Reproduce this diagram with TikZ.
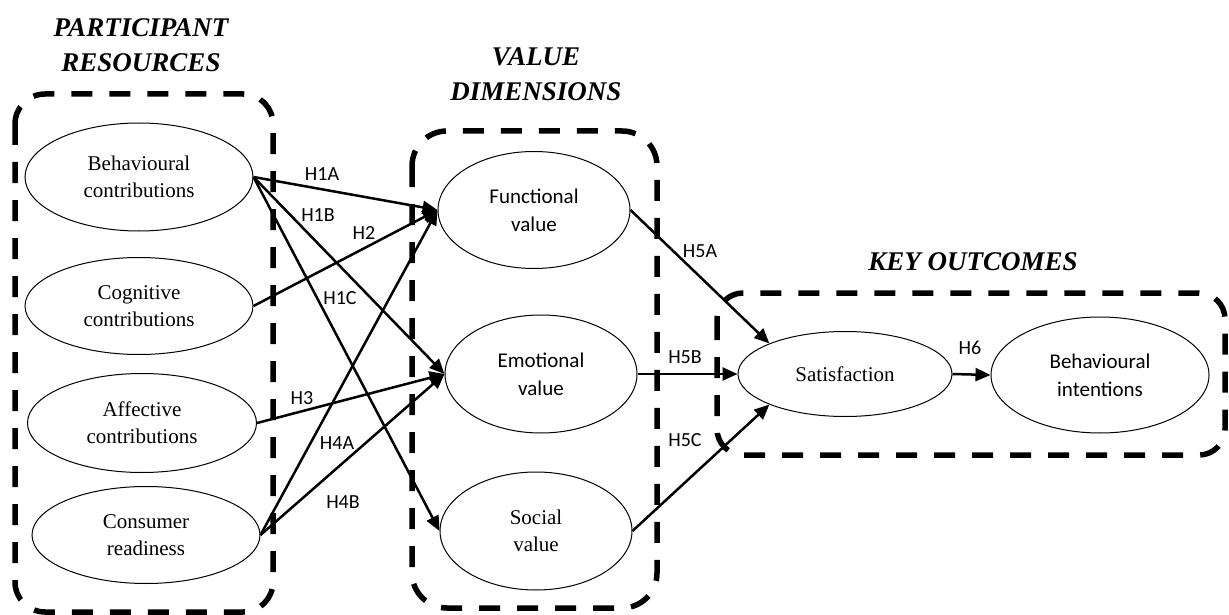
\documentclass[tikz,border=0pt]{standalone}
\usepackage{fontspec}
\setmainfont{Liberation Serif}
\newfontfamily\calib{Carlito}
\usetikzlibrary{arrows.meta,shapes.geometric}

\tikzset{
  construct/.style={ellipse, draw, line width=1pt, inner sep=0pt, align=center,
    font=\fontsize{21}{27}\selectfont},
  sanstext/.style={font=\calib\fontsize{21}{28}\selectfont},
  groupbox/.style={draw, line width=5.5pt, dash pattern=on 21pt off 17pt},
  grouptitle/.style={align=center, font=\fontsize{27}{35}\selectfont\bfseries\itshape},
  path/.style={line width=2.5pt, -{Triangle[length=15pt,width=13pt]}},
  hyp/.style={font=\calib\fontsize{20}{24}\selectfont, inner sep=0pt},
}

\begin{document}
\begin{tikzpicture}[x=1pt, y=-1pt]
\useasboundingbox (0,0) rectangle (1229,615);

% group frames
\draw[groupbox, rounded corners=30pt] (15,94) rectangle (273,612);
\draw[groupbox, rounded corners=35pt] (412,131) rectangle (657,608);
\draw[groupbox, rounded corners=26pt] (717,293) rectangle (1225,455);

% group titles
\node[grouptitle] (tpr) at (141,45) {PARTICIPANT\\RESOURCES};
\node[grouptitle] (tvd) at (536,74) {VALUE\\DIMENSIONS};
\node[grouptitle] (tko) at (973,262) {KEY OUTCOMES};

% participant resources
\node[construct, minimum width=228pt, minimum height=108pt] (bc) at (139,177) {Behavioural\\contributions};
\node[construct, minimum width=228pt, minimum height=97pt] (cc) at (139,306) {Cognitive\\contributions};
\node[construct, minimum width=229pt, minimum height=99pt] (ac) at (142,423) {Affective\\contributions};
\node[construct, minimum width=228pt, minimum height=97pt] (cr) at (146,535) {Consumer\\readiness};

% value dimensions
\node[construct, sanstext, minimum width=192pt, minimum height=117pt] (fv) at (534,210) {Functional\\value};
\node[construct, sanstext, minimum width=192pt, minimum height=118pt] (ev) at (541,374) {Emotional\\value};
\node[construct, minimum width=192pt, minimum height=118pt] (sv) at (536,531) {Social\\value};

% key outcomes
\node[construct, minimum width=214pt, minimum height=85pt] (sat) at (845,374) {Satisfaction};
\node[construct, sanstext, minimum width=218pt, minimum height=116pt] (bi) at (1100,375) {Behavioural\\intentions};

% hypothesised paths
\draw[path] (bc.east) -- (fv.west);
\draw[path] (bc.east) -- (ev.west);
\draw[path] (bc.east) -- (sv.west);
\draw[path] (cc.east) -- (fv.west);
\draw[path] (ac.east) -- (ev.west);
\draw[path] (cr.east) -- (fv.west);
\draw[path] (cr.east) -- (ev.west);
\draw[path] (fv.east) -- (sat.158);
\draw[path] (ev.east) -- (sat.west);
\draw[path] (sv.east) -- (sat.202);
\draw[path] (sat.east) -- (bi.west);

% path labels
\node[hyp] (l1a) at (322,174) {H1A};
\node[hyp] (l1b) at (318,215) {H1B};
\node[hyp] (l2)  at (364,233) {H2};
\node[hyp] (l1c) at (340,298) {H1C};
\node[hyp] (l3)  at (302,398) {H3};
\node[hyp] (l4a) at (337,443) {H4A};
\node[hyp] (l4b) at (343,502) {H4B};
\node[hyp] (l5a) at (700,251) {H5A};
\node[hyp] (l5b) at (685,357) {H5B};
\node[hyp] (l5c) at (685,440) {H5C};
\node[hyp] (l6)  at (970,348) {H6};
\end{tikzpicture}
\end{document}
